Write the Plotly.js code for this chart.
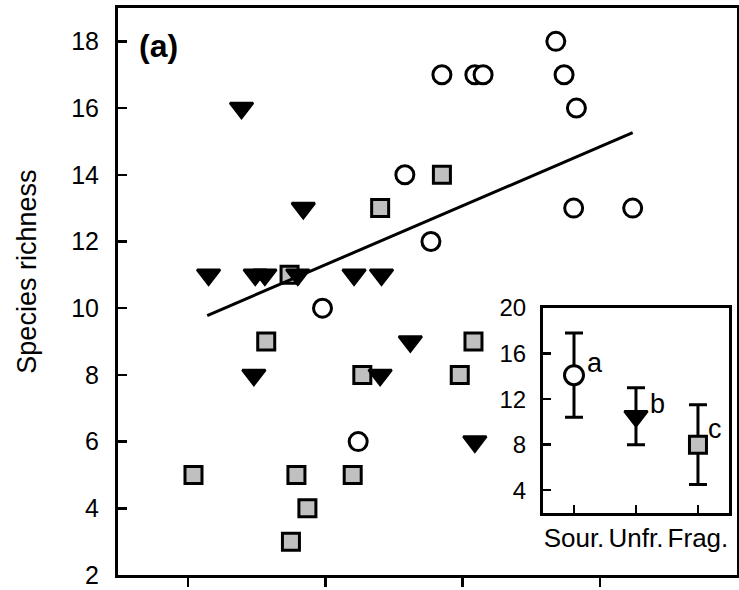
<!DOCTYPE html>
<html>
<head>
<meta charset="utf-8">
<script src="https://cdn.plot.ly/plotly-3.0.1.min.js"></script>
<style>
  html, body { margin: 0; padding: 0; background: #ffffff; }
  #chart { width: 739px; height: 590px; }
</style>
</head>
<body>
<div id="chart"></div>
<script>
// Species richness per plot, grouped by habitat type
const sourceX = [1.98, 2.24, 2.58, 2.77, 2.85, 3.09, 3.15, 3.68, 3.74, 3.83, 3.81, 4.24];
const sourceY = [10, 6, 14, 12, 17, 17, 17, 18, 17, 16, 13, 13];

const unfrX = [1.39, 1.15, 1.49, 1.56, 1.80, 1.84, 2.21, 2.41, 1.48, 2.40, 2.62, 3.09];
const unfrY = [16, 11, 11, 11, 11, 13, 11, 11, 8, 8, 9, 6];

const fragX = [1.04, 1.57, 1.74, 1.79, 1.87, 1.75, 2.20, 2.27, 2.40, 2.85, 2.98, 3.08];
const fragY = [5, 9, 11, 5, 4, 3, 5, 8, 13, 14, 8, 9];

// Fitted regression line (end points)
const fitX = [1.14, 4.24];
const fitY = [9.78, 15.26];

// Inset: group means with error bars and significance letters
const groupNames = ['Sour.', 'Unfr.', 'Frag.'];
const groupMeans = [14.1, 10.5, 8.0];
const groupErrors = [3.7, 2.5, 3.5];
const groupLetters = ['a', 'b', 'c'];

const mainTicksY = [2, 4, 6, 8, 10, 12, 14, 16, 18];
const mainTicksX = [1, 2, 3, 4];
const insetTicksY = [4, 8, 12, 16, 20];

const FONT = 'Liberation Sans, Arial, Helvetica, sans-serif';
const GREY = '#c0c0c0';

const circleMarker = { symbol: 'circle', size: 18, color: '#ffffff', line: { color: '#000000', width: 3 } };
const triMarker = { symbol: 'triangle-down', size: 20, color: '#000000', line: { color: '#000000', width: 2.5 } };
const squareMarker = { symbol: 'square', size: 17, color: GREY, line: { color: '#000000', width: 3 } };

const traces = [
  { type: 'scatter', mode: 'markers', x: fragX, y: fragY, marker: squareMarker, xaxis: 'x', yaxis: 'y', hoverinfo: 'skip' },
  { type: 'scatter', mode: 'markers', x: unfrX, y: unfrY, marker: triMarker, xaxis: 'x', yaxis: 'y', hoverinfo: 'skip' },
  { type: 'scatter', mode: 'markers', x: sourceX, y: sourceY, marker: circleMarker, xaxis: 'x', yaxis: 'y', hoverinfo: 'skip' },
  { type: 'scatter', mode: 'lines', x: fitX, y: fitY, line: { color: '#000000', width: 3 }, xaxis: 'x', yaxis: 'y', hoverinfo: 'skip' }
];

// Inset traces, one per group so each gets its own symbol
const insetMarkers = [
  Object.assign({}, circleMarker, { size: 19 }),
  Object.assign({}, triMarker, { size: 20 }),
  Object.assign({}, squareMarker, { size: 17 })
];
groupNames.forEach(function (g, i) {
  traces.push({
    type: 'scatter', mode: 'markers',
    x: [i + 1], y: [groupMeans[i]],
    error_y: { type: 'data', array: [groupErrors[i]], visible: true, color: '#000000', thickness: 3, width: 9 },
    marker: insetMarkers[i],
    xaxis: 'x2', yaxis: 'y2', hoverinfo: 'skip'
  });
});

const annotations = [
  { text: '<b>(a)</b>', xref: 'paper', yref: 'paper', x: 0.03, y: 0.933, xanchor: 'left', yanchor: 'middle',
    showarrow: false, font: { family: FONT, size: 32, color: '#000000' } },
  { text: 'Species richness', xref: 'paper', yref: 'paper', x: -0.147, y: 0.535, xanchor: 'center', yanchor: 'middle',
    textangle: -90, showarrow: false, font: { family: FONT, size: 27, color: '#000000' } }
];
const letterOffsetX = [0.34, 0.34, 0.27];
const letterOffsetY = [1.1, 1.1, 1.4];
groupLetters.forEach(function (l, i) {
  annotations.push({
    text: l, xref: 'x2', yref: 'y2', x: i + 1 + letterOffsetX[i], y: groupMeans[i] + letterOffsetY[i],
    xanchor: 'center', yanchor: 'middle', showarrow: false,
    font: { family: FONT, size: 27, color: '#000000' }
  });
});

const layout = {
  width: 739, height: 590,
  margin: { l: 118, r: 2, t: 8, b: 15 },
  paper_bgcolor: '#ffffff', plot_bgcolor: '#ffffff',
  showlegend: false,
  font: { family: FONT, color: '#000000' },
  xaxis: {
    domain: [0, 1], range: [0.49, 5.0], tickvals: mainTicksX, showticklabels: false,
    ticks: 'outside', ticklen: 9, tickwidth: 2.5, tickcolor: '#000000',
    showline: true, linewidth: 3, linecolor: '#000000', mirror: true,
    showgrid: false, zeroline: false
  },
  yaxis: {
    domain: [0, 1], range: [2, 19], tickvals: mainTicksY,
    ticks: 'inside', ticklen: 9, tickwidth: 2.5, tickcolor: '#000000',
    ticklabelstandoff: 11,
    tickfont: { family: FONT, size: 25, color: '#000000' },
    showline: true, linewidth: 3, linecolor: '#000000', mirror: true,
    showgrid: false, zeroline: false
  },
  xaxis2: {
    domain: [0.6866, 0.987], anchor: 'y2', range: [0.5, 3.5],
    tickvals: [1, 2, 3], ticktext: groupNames, tickangle: 0,
    ticks: 'inside', ticklen: 8, tickwidth: 2.5, tickcolor: '#000000',
    tickfont: { family: FONT, size: 26, color: '#000000' },
    showline: true, linewidth: 3, linecolor: '#000000', mirror: true,
    showgrid: false, zeroline: false
  },
  yaxis2: {
    domain: [0.1093, 0.4709], anchor: 'x2', range: [2, 20], tickvals: insetTicksY,
    ticks: 'inside', ticklen: 8, tickwidth: 2.5, tickcolor: '#000000',
    ticklabelstandoff: 9,
    tickfont: { family: FONT, size: 24, color: '#000000' },
    showline: true, linewidth: 3, linecolor: '#000000', mirror: true,
    showgrid: false, zeroline: false
  },
  annotations: annotations
};

Plotly.newPlot('chart', traces, layout, { staticPlot: true, displayModeBar: false });
</script>
</body>
</html>
